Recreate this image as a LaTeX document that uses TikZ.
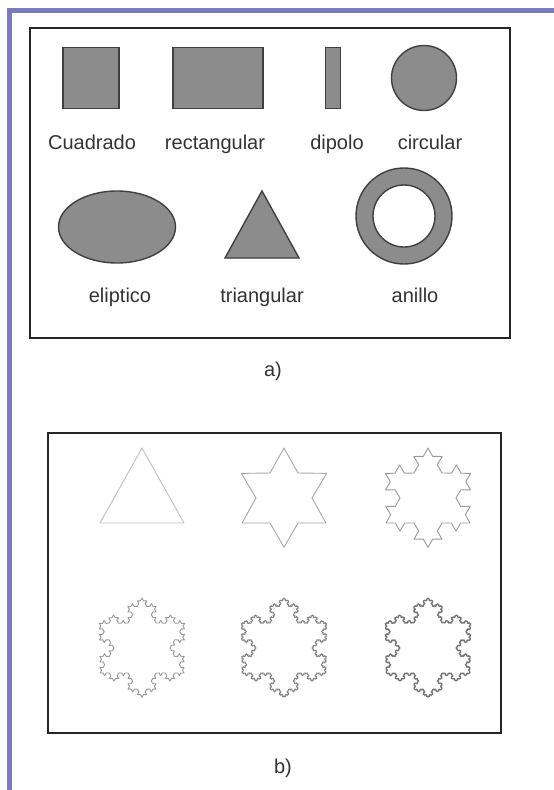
\documentclass[tikz,border=0pt]{standalone}
\usepackage{fontspec}
\setmainfont{Liberation Sans}
\usetikzlibrary{shapes.geometric,decorations.fractals}
\definecolor{marco}{RGB}{123,123,192}
\definecolor{relleno}{RGB}{140,140,140}
\begin{document}
\begin{tikzpicture}[
    x=1pt, y=-1pt,
    forma/.style={draw=black!75, line width=1.4pt, fill=relleno, inner sep=0pt},
    etiqueta/.style={anchor=base, text=black!80, font=\fontsize{20}{24}\selectfont},
    caja/.style={draw=black!85, line width=2.5pt},
    koch/.style={draw=#1, line width=0.9pt, line join=round, decoration=Koch snowflake}
]
\useasboundingbox (0,0) rectangle (554,790);
\fill[white] (0,0) rectangle (554,790);
\fill[marco] (7,8) rectangle (12,790);
\fill[marco] (7,8) rectangle (554,13);

% a) formas
\draw[caja] (30,28) rectangle (510,338);
\node[forma, rectangle, minimum width=56pt, minimum height=61pt] (cuad) at (91,78) {};
\node[forma, rectangle, minimum width=90pt, minimum height=61pt] (rect) at (218,78) {};
\node[forma, rectangle, minimum width=15pt, minimum height=61pt] (dip) at (333,78) {};
\node[forma, circle, minimum size=65pt] (circ) at (424,78) {};
\node[forma, ellipse, minimum width=117pt, minimum height=72pt] (elip) at (117,227) {};
\draw[forma] (225,258) coordinate (t1) -- (262,191) coordinate (t2) -- (299,258) coordinate (t3) -- cycle;
\draw[forma, even odd rule] (404,216) coordinate (anc) circle (48) (anc) circle (31);

\node[etiqueta] (lcuad) at (92,149) {Cuadrado};
\node[etiqueta] (lrect) at (215,149) {rectangular};
\node[etiqueta] (ldip) at (337,149) {dipolo};
\node[etiqueta] (lcirc) at (430,149) {circular};
\node[etiqueta] (lelip) at (120,302) {eliptico};
\node[etiqueta] (ltri) at (262,302) {triangular};
\node[etiqueta] (lanc) at (415,302) {anillo};
\node[etiqueta] (la) at (273,376) {a)};

% b) copo de Koch
\draw[caja] (48,433) rectangle (501,733);
\draw[koch=black!25] (100,523) -- (142,448) -- (184,523) -- cycle;
\draw[koch=black!35] decorate{(242,523) -- (284,448) -- (326,523) -- cycle};
\draw[koch=black!40] decorate{decorate{(386,523) -- (428,448) -- (470,523) -- cycle}};
\draw[koch=black!40] decorate{decorate{decorate{(100,673) -- (142,598) -- (184,673) -- cycle}}};
\draw[koch=black!50] decorate{decorate{decorate{decorate{(242,673) -- (284,598) -- (326,673) -- cycle}}}};
\draw[koch=black!55] decorate{decorate{decorate{decorate{decorate{(386,673) -- (428,598) -- (470,673) -- cycle}}}}};
\node[etiqueta] (lb) at (283,773) {b)};
\end{tikzpicture}
\end{document}
